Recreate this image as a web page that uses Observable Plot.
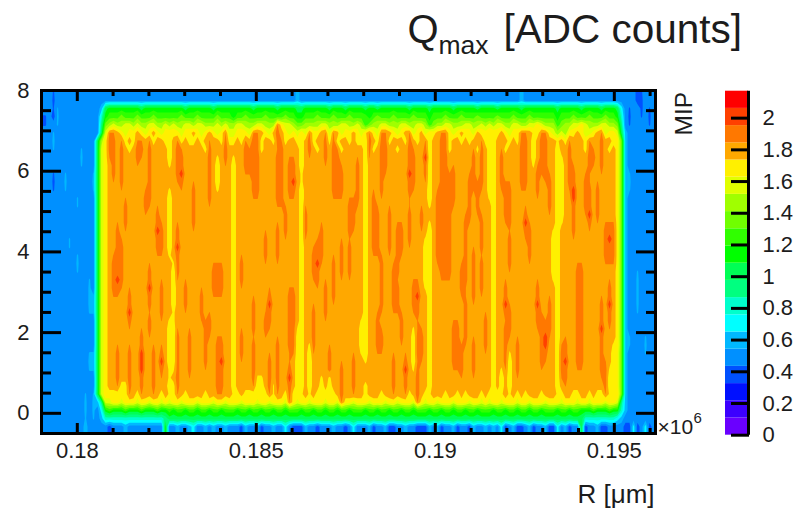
<!DOCTYPE html>
<html>
<head>
<meta charset="utf-8">
<script src="https://cdn.jsdelivr.net/npm/d3@7"></script>
<script src="https://cdn.jsdelivr.net/npm/@observablehq/plot@0.6"></script>
<style>
  html, body { margin: 0; padding: 0; background: #fff; }
  #chart { position: relative; width: 808px; height: 513px; overflow: hidden; }
  #chart svg { display: block; position: absolute; top: 0; }
</style>
</head>
<body>
<div id="chart"></div>
<script>
// --- Axis values ---
const rTicksMajor = [0.18, 0.185, 0.19, 0.195];
const rTicksMinor = [0.179, 0.181, 0.182, 0.183, 0.184, 0.186, 0.187, 0.188, 0.189, 0.191, 0.192, 0.193, 0.194, 0.196];
const mipTicksMajor = [0, 2, 4, 6, 8];
const mipTicksMinor = [-0.5, 0.5, 1, 1.5, 2.5, 3, 3.5, 4.5, 5, 5.5, 6.5, 7, 7.5];
const barTicks = [0, 0.2, 0.4, 0.6, 0.8, 1, 1.2, 1.4, 1.6, 1.8, 2];

// --- Colour levels: 20 contour bands from 0 up to 2.17 ---
const bandWidth = 0.1085;
const palette = ["#6a00ff", "#3c00ff", "#0010ff", "#0050ff", "#0090ff", "#00b8ff", "#00ffff", "#00ffcc", "#00ff80", "#00ff55",
                 "#00ff00", "#30ff00", "#70ff00", "#a0ff00", "#e0ff00", "#fff000", "#ffa800", "#ff7800", "#ff4000", "#ff0000"];
const levels = palette.map((_, i) => i * bandWidth);

// --- Qmax, as band codes (0-9, a-j), one character per R bin.
// Groups: left margin, eight detector modules, right margin.
const topRows = [
  "4443444444444444 4444444444444444 4444444444444444 4444444444444444 5444444444444444 4444444444444444 4444444444444444 4444444454444444 4444444444444444 4444434444",
  "4443444444444444 4444444444444444 4444444444444444 4444444444444444 5444444444444444 4444444444444444 4444444444444444 4444444454444444 4444444444444444 4444434444",
  "4443444444444445 9aaaaaaaa9aaaaaa aaaa9aaaaaa9aaaa aaaaa9aaaaa9aaaa 99aaaaaa9aaa9aaa a9aa9aaaaaaa9aaa a9aaaaa9aaaaa9aa aa9aaaaa9aaaaaaa a9aaaaa9aaaa9aaa 9644444444",
  "4443544444444447 abbbcbbbcbbbcbbb bbbcbbbcbbbbcbbb abbcbbbbcbbbbcbb aabbbcbbbcbbbcbb bbabcbbbcbbbbcbb babbbcbbbcbbbcbb bbcbbbcbbbcbbbbb babbbcbbbcbbbcbb a744444444",
  "4444444444444448 cdeddeededdeedde deddeedeedddeded deedddeeddddfeed ccddddeedddeedde dbcddeedddeeddee dbcddeedddeedded edeeddeeddeefedd dbcddeefedddeedd c844444444",
  "4444444444444449 effgfeffgfefgfef effeffgfefgfeffe efffeffgfegggfef edefffgfefgeffgf edffeffgfefgfefg eefgeffefgffegff gefgfeffgfgffeff ededffgfeefgfeff e954444444",
  "444444444444449d fgfggfgfgfggfggf fggfgffgfgfggfgf fgfggfgfggfggfgg ffggfgggfgfggfgf ffggfggfgggfggfg ffggfgfggfgfgggf ffgggfgfgggfggfg gegfggggffggfggf fc54444444",
  "444444444444449e fgggggfggggfgggg gggfgggggfggggfg gggggggfgggggggg gggggfgggggfgggg gggfgggggfgggggg ggggggfggggggfgg ggggfggggggggfgg gfggggggfgggggfg fc54444444"
];
const plateauRow =
  "444444444444449e fggggggggggggggg gggggggggggggggg gggggggggggggggg gggggggggggggggg gggggggggggggggg gggggggggggggggg gggggggggggggggg gggggggggggggggg fc54444444";
const bottomRows = [
  "444444444444449e fgggffgggggggggg ffgggggggggggggg fggggffggggggggg ffgfggfgfggggggg gfgggggggggggggg gfgggggggggggggg gfgggggggggggggg gfggggggggggggff fc54444444",
  "444444444444449e ffffffggfgggfgfg ffggfggggfgggfgg ffgfffggfggfgfgf ffgfgfffgfgfgggg gfgggfggfgggfggg ffgggfggfgfgggfg fffggfgfgfgggfgg gffggffggfgffggf fc54444444",
  "4444444444444458 eeffefffeffeffef effefffefffeffef ffefffeffefffeff effefffeffefffef ffefffeffefffeff effefffefffeffef effefffeffefffef ffefffeffefffeff e854444444",
  "4444444444444446 abaaabaaabaaabaa babbabbabbabbabb babbabbabbabbabb babbabbabbabbabb babbabbabbabbabb babbabbabbabbabb babbabbabbabbabb babbabbaaabaaaba a754444444",
  "4444444444444445 7777777777777778 9999999999999999 9999999999999999 9999999999999999 9999999999999999 9999999999999999 9999999999999999 9999999977777777 6544444444",
  "4444444444454444 434445444444444a 4454456445454454 4435445344544643 3354434445443464 4453445334454433 3545344534435445 4546345334534453 3645344934453344 4433634634",
  "4444444444454444 434445444444444a 4454456445454454 4435445344544643 3354434445443464 4453445334454433 3545344534435445 4546345334534453 3645344934453344 4433634634"
];
const plateauCount = 43 - topRows.length - bottomRows.length;

// Streaks: [R bin, first MIP row, last MIP row]
const orangeStreaks = [
  [17,5,8],[18,5,11],[20,6,12],[21,13,17],[19,16,20],[20,18,24],[18,20,25],[19,20,25],[22,24,29],[24,6,9],[25,6,8],[27,6,14],[26,12,15],[29,14,20],[30,16,20],[27,21,27],[30,23,28],[25,29,37],[27,27,30],[19,31,36],[22,31,37],[28,31,37],[30,31,35],
  [34,6,11],[34,16,23],[35,7,12],[36,23,27],[38,11,17],[40,24,28],[42,6,14],[42,27,30],[43,21,25],[44,21,25],[45,21,25],[41,28,34],[37,29,35],[34,29,37],[44,30,37],[45,30,37],[46,5,9],
  [51,6,10],[50,20,24],[50,29,33],[53,5,13],[54,5,13],[52,7,10],[53,25,30],[56,17,21],[56,27,30],[57,24,29],[59,6,14],[60,6,14],[59,4,7],[62,8,13],[63,8,13],[59,16,21],[61,14,18],[62,24,32],[63,24,32],[57,32,37],[62,33,38],[59,30,37],[53,30,36],
  [66,14,18],[69,18,24],[68,19,23],[68,26,32],[70,16,21],[71,23,28],[72,31,37],[73,5,13],[74,7,13],[75,9,13],[73,20,26],[75,18,23],[77,13,19],[78,13,17],[79,8,14],[77,18,23],[78,32,37],[75,33,38],[67,5,8],[71,5,9],
  [82,5,8],[83,12,20],[84,14,20],[85,5,13],[84,27,32],[85,29,32],[87,14,20],[86,5,10],[85,20,27],[88,21,27],[88,32,37],[89,16,23],[89,23,27],[90,16,20],[90,27,31],[91,32,37],[92,5,13],[93,7,12],[92,14,19],[94,23,28],[93,23,27],[95,29,33],[94,29,33],[94,33,38],[95,14,17],[96,6,11],
  [99,12,21],[100,5,23],[101,5,23],[102,10,23],[103,9,14],[106,15,24],[105,21,25],[106,25,31],[103,28,34],[104,28,34],[107,10,16],[108,7,12],[109,11,15],[108,19,26],[110,20,25],[110,6,12],[110,15,20],[111,27,32],[108,30,35],[105,31,35],
  [115,7,12],[116,11,16],[117,11,17],[117,17,22],[116,23,30],[117,26,30],[116,28,34],[119,30,35],[120,5,12],[121,5,12],[121,14,18],[122,16,21],[124,23,29],[124,9,13],[125,27,34],[126,28,33],[127,10,15],[127,25,30],[125,5,10],[126,5,11],
  [130,31,35],[131,30,36],[133,9,18],[132,6,12],[134,21,34],[135,21,34],[136,10,15],[137,11,17],[137,6,10],[138,7,9],[139,11,16],[140,25,35],[142,23,29],[141,16,21],[142,16,21],[143,16,21],[140,5,10],[141,33,37]
];
const redSpots = [
  [19,23,23],[22,27,27],[29,17,17],[27,24,24],[25,32,34],[30,33,33],
  [34,19,19],[35,10,10],[45,33,33],
  [57,26,26],[63,11,11],[62,35,35],
  [69,21,21],
  [91,34,34],[92,10,10],[94,25,25],[96,8,8],
  [116,26,26],[121,16,16],[124,26,26],[126,30,31],
  [133,12,13],[137,15,15],[131,33,33],[140,29,29],[142,26,26],[142,18,18]
];
const yellowStreaks = [
  [32,5,9],[32,12,20],[33,21,27],[32,28,34],[33,28,34],[32,35,37],[44,8,12],
  [48,8,37],[54,35,37],[55,35,37],[58,36,37],
  [65,5,10],[65,11,37],[64,29,37],[67,31,37],[70,35,37],[72,35,37],
  [81,5,33],[80,28,32],[93,29,34],
  [97,5,14],[97,16,37],[96,18,24],
  [113,5,37],[112,5,13],[117,32,37],[115,34,37],[123,5,9],
  [129,6,37],[130,8,16],[128,17,23],[143,31,37],[144,31,37],[142,34,37]
];
const paleNoise = [
  [4,2,4],[3,5,7],[10,7,9],[13,10,12],[6,10,12],[9,13,14],[7,18,19],[9,20,22],[12,23,27],[13,25,27],[12,32,34],[13,32,34],[11,37,40],[13,37,40],
  [147,10,12],[149,22,27],[151,30,32],[147,30,31]
];
const deepNoise = [[3,0,2],[0,3,4],[1,3,4],[3,10,12],[150,0,3],[147,2,4],[152,2,4]];

// --- Build the grid from the rows (in band units) ---
const nR = 154;
const rowStrings = [...topRows, ...Array(plateauCount).fill(plateauRow), ...bottomRows];
const codes = "0123456789abcdefghij";
const grid = rowStrings.map(s => s.replace(/ /g, "").padEnd(nR, "4").slice(0, nR).split("").map(ch => codes.indexOf(ch) + 0.5));
function paint(list, core, tip) {
  for (const [c, r0, r1] of list) for (let r = r0; r <= r1; r++) grid[r][c] = (r === r0 || r === r1) ? tip : core;
}
paint(orangeStreaks, 17.4, 17.05);
paint(yellowStreaks, 15.2, 15.8);
paint(redSpots, 18.7, 18.7);
paint(paleNoise, 5.2, 5.1);
paint(deepNoise, 3.8, 3.9);
const qmax = grid.flat().map(b => b * bandWidth);

// --- Extent of the plot and of the grid ---
const rDomain = [0.179, 0.19615];
const mipDomain = [-0.5, 8];
const font = "'Liberation Sans', Arial, sans-serif";
const ink = "#1c1c1c";
const colorScale = {type: "threshold", domain: levels.slice(1), range: palette};

const L = 41, T = 90;
function label(t, x, y, size, extra = {}) {
  return Plot.text([t], {text: d => d, frameAnchor: "top-left", dx: x - L, dy: y - T, fontSize: size,
    textAnchor: "start", lineAnchor: "bottom", fill: ink, ...extra});
}

const main = Plot.plot({
  width: 808, height: 513,
  marginLeft: L, marginTop: T, marginRight: 153, marginBottom: 80,
  style: {fontFamily: font, background: "transparent", overflow: "visible"},
  x: {domain: rDomain, axis: null},
  y: {domain: mipDomain, axis: null},
  color: colorScale,
  marks: [
    Plot.contour(qmax, {
      width: nR, height: rowStrings.length,
      x1: 0.179 - 2 * 0.005 / 179, x2: 0.179 + 614 * 0.005 / 179,
      y1: 8.062, y2: -0.636,
      thresholds: levels, fill: Plot.identity, clip: true, smooth: true
    }),
    Plot.axisX({ticks: rTicksMajor, anchor: "bottom", tickSize: -10, strokeWidth: 3, fill: "none", label: null}),
    Plot.axisX({ticks: rTicksMinor, anchor: "bottom", tickSize: -5, strokeWidth: 3, fill: "none", label: null}),
    Plot.axisX({ticks: rTicksMajor, anchor: "top", tickSize: -10, strokeWidth: 3, fill: "none", label: null}),
    Plot.axisX({ticks: rTicksMinor, anchor: "top", tickSize: -5, strokeWidth: 3, fill: "none", label: null}),
    Plot.axisY({ticks: mipTicksMajor, anchor: "left", tickSize: -20, strokeWidth: 3, fill: "none", label: null}),
    Plot.axisY({ticks: mipTicksMinor, anchor: "left", tickSize: -10, strokeWidth: 3, fill: "none", label: null}),
    Plot.axisY({ticks: mipTicksMajor, anchor: "right", tickSize: -20, strokeWidth: 3, fill: "none", label: null}),
    Plot.axisY({ticks: mipTicksMinor, anchor: "right", tickSize: -10, strokeWidth: 3, fill: "none", label: null}),
    Plot.axisX({ticks: rTicksMajor, anchor: "bottom", tickSize: 0, tickPadding: 9, fontSize: 22, fill: ink, label: null,
      tickFormat: d => String(d)}),
    Plot.axisY({ticks: mipTicksMajor, anchor: "left", tickSize: 0, tickPadding: 12, fontSize: 22, fill: ink, label: null,
      tickFormat: d => String(d)}),
    Plot.frame({stroke: "#000", strokeWidth: 3}),
    label("Q", 407, 42, 40),
    label("max", 438, 53, 26.5),
    label("[ADC counts]", 503, 42, 40.5),
    label("R [μm]", 577, 502, 26),
    label("MIP", 684, 135, 24.5, {rotate: -90, lineAnchor: "middle"}),
    label("×10", 657, 433, 21),
    label("6", 693, 422, 15)
  ]
});
main.style.left = "0px";

const bandRows = palette.map((_, i) => ({lo: levels[i], hi: levels[i] + bandWidth, mid: levels[i] + bandWidth / 2}));
const bar = Plot.plot({
  width: 108, height: 513,
  marginLeft: 25, marginRight: 60, marginTop: 90.7, marginBottom: 78.3,
  style: {fontFamily: font, background: "transparent", overflow: "visible"},
  x: {domain: [0, 1], axis: null},
  y: {domain: [0, 2.17], axis: null},
  color: colorScale,
  marks: [
    Plot.rect(bandRows, {x1: () => 0, x2: () => 1, y1: "lo", y2: "hi", fill: "mid"}),
    Plot.ruleX([1], {stroke: "#000", strokeWidth: 3}),
    Plot.axisY({ticks: barTicks, anchor: "right", tickSize: -18, strokeWidth: 3, fill: "none", label: null}),
    Plot.axisY({ticks: barTicks, anchor: "right", tickSize: 0, tickPadding: 14, fontSize: 22, fill: ink, label: null,
      tickFormat: d => String(d), textAnchor: "start"})
  ]
});
bar.style.left = "700px";

document.getElementById("chart").append(main, bar);
</script>
</body>
</html>
